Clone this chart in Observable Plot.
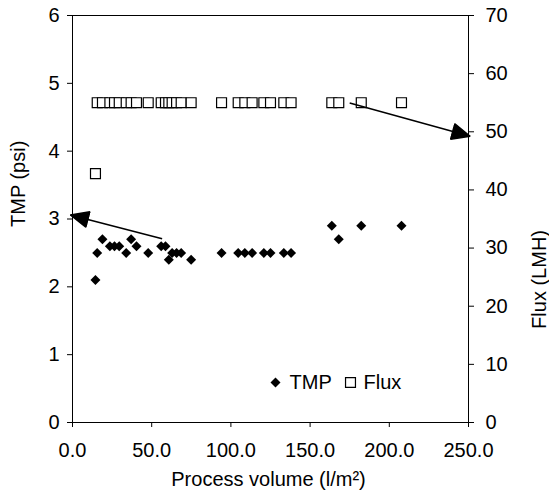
<!DOCTYPE html>
<html>
<head>
<meta charset="utf-8">
<script src="https://cdn.jsdelivr.net/npm/d3@7"></script>
<script src="https://cdn.jsdelivr.net/npm/@observablehq/plot@0.6"></script>
<style>
  html, body { margin: 0; padding: 0; background: #fff; }
</style>
</head>
<body>
<div id="chart"></div>
<script>
// Process volume (l/m2)
const volume = [14.5, 15.6, 18.9, 23.6, 26.5, 29.5, 33.9, 37.0, 40.4, 47.8, 56.0, 58.7, 60.8, 62.9, 65.7, 68.6, 74.9,
                94.1, 104.6, 108.8, 113.4, 120.8, 125.0, 133.4, 138.0, 163.7, 168.1, 182.3, 207.7];
// TMP (psi)
const tmp = [2.1, 2.5, 2.7, 2.6, 2.6, 2.6, 2.5, 2.7, 2.6, 2.5, 2.6, 2.6, 2.4, 2.5, 2.5, 2.5, 2.4,
             2.5, 2.5, 2.5, 2.5, 2.5, 2.5, 2.5, 2.5, 2.9, 2.7, 2.9, 2.9];
// Flux (LMH)
const flux = [42.8, 55, 55, 55, 55, 55, 55, 55, 55, 55, 55, 55, 55, 55, 55, 55, 55,
              55, 55, 55, 55, 55, 55, 55, 55, 55, 55, 55, 55];

const xTicks = [0, 50, 100, 150, 200, 250];
const tmpTicks = [0, 1, 2, 3, 4, 5, 6];
const fluxTicks = [0, 10, 20, 30, 40, 50, 60, 70];
const tmpMax = 6, fluxMax = 70;

// annotation arrows (x in l/m2, y in psi)
const arrowX1 = [56.6, 175];
const arrowY1 = [2.71, 4.71];
const arrowX2 = [-1.3, 251];
const arrowY2 = [3.06, 4.22];

const rows = volume.map((v, i) => ({volume: v, tmp: tmp[i], flux: flux[i]}));
const arrows = arrowX1.map((x, i) => ({x1: x, y1: arrowY1[i], x2: arrowX2[i], y2: arrowY2[i]}));
const toLeft = f => f * tmpMax / fluxMax;

const headMarker = (color, context) => {
  const m = d3.create("svg:marker")
    .attr("viewBox", "-19 -9 20 18")
    .attr("markerWidth", 20)
    .attr("markerHeight", 18)
    .attr("refX", 0)
    .attr("refY", 0)
    .attr("markerUnits", "userSpaceOnUse")
    .attr("orient", "auto");
  m.append("path").attr("d", "M0,0L-18,-8L-18,8Z").attr("fill", "black");
  return m.node();
};

const font = "'Liberation Sans', Arial, sans-serif";

const chart = Plot.plot({
  width: 549,
  height: 491,
  marginLeft: 72,
  marginRight: 81,
  marginTop: 15,
  marginBottom: 69,
  style: {fontFamily: font, fontSize: "20px", color: "black", background: "white"},
  x: {domain: [0, 250]},
  y: {domain: [0, tmpMax]},
  marks: [
    Plot.frame({stroke: "black", strokeWidth: 1}),
    Plot.axisX(xTicks, {tickSize: 5, tickPadding: 15, tickFormat: d3.format(".1f"), label: null, stroke: "black"}),
    Plot.axisY(tmpTicks, {anchor: "left", tickSize: 5, tickPadding: 8, label: null, tickFormat: d3.format("d"), stroke: "black"}),
    Plot.axisY(fluxTicks.map(toLeft), {anchor: "right", tickSize: 5, tickPadding: 12, label: null,
      tickFormat: d => Math.round(d * fluxMax / tmpMax), stroke: "black"}),
    Plot.dot(rows, {x: "volume", y: d => toLeft(d.flux), symbol: "square", r: 5.6, fill: "white", stroke: "black", strokeWidth: 1.2}),
    Plot.dot(rows, {x: "volume", y: "tmp", symbol: "diamond2", r: 4.5, fill: "black", stroke: "none"}),
    Plot.link(arrows, {x1: "x1", y1: "y1", x2: "x2", y2: "y2", stroke: "black", strokeWidth: 1.5, markerEnd: headMarker}),
    // legend
    Plot.dot(["TMP"], {frameAnchor: "bottom-right", dx: -193, dy: -40, symbol: "diamond2", r: 4.5, fill: "black"}),
    Plot.text(["TMP"], {frameAnchor: "bottom-right", dx: -179, dy: -40, text: d => d, textAnchor: "start", lineAnchor: "middle", fill: "black"}),
    Plot.dot(["Flux"], {frameAnchor: "bottom-right", dx: -118, dy: -40, symbol: "square", r: 5.6, fill: "white", stroke: "black", strokeWidth: 1.2}),
    Plot.text(["Flux"], {frameAnchor: "bottom-right", dx: -105, dy: -40, text: d => d, textAnchor: "start", lineAnchor: "middle", fill: "black"}),
    // axis titles
    Plot.text(["Process volume (l/m²)"], {frameAnchor: "bottom", dx: -2, dy: 63, text: d => d, lineAnchor: "bottom", fill: "black"}),
    Plot.text(["TMP (psi)"], {frameAnchor: "left", dx: -54, dy: 8, rotate: -90, text: d => d, lineAnchor: "middle", fill: "black"}),
    Plot.text(["Flux (LMH)"], {frameAnchor: "right", dx: 71, dy: 11, rotate: -90, text: d => d, lineAnchor: "middle", fill: "black"})
  ]
});
document.getElementById("chart").appendChild(chart);
</script>
</body>
</html>
